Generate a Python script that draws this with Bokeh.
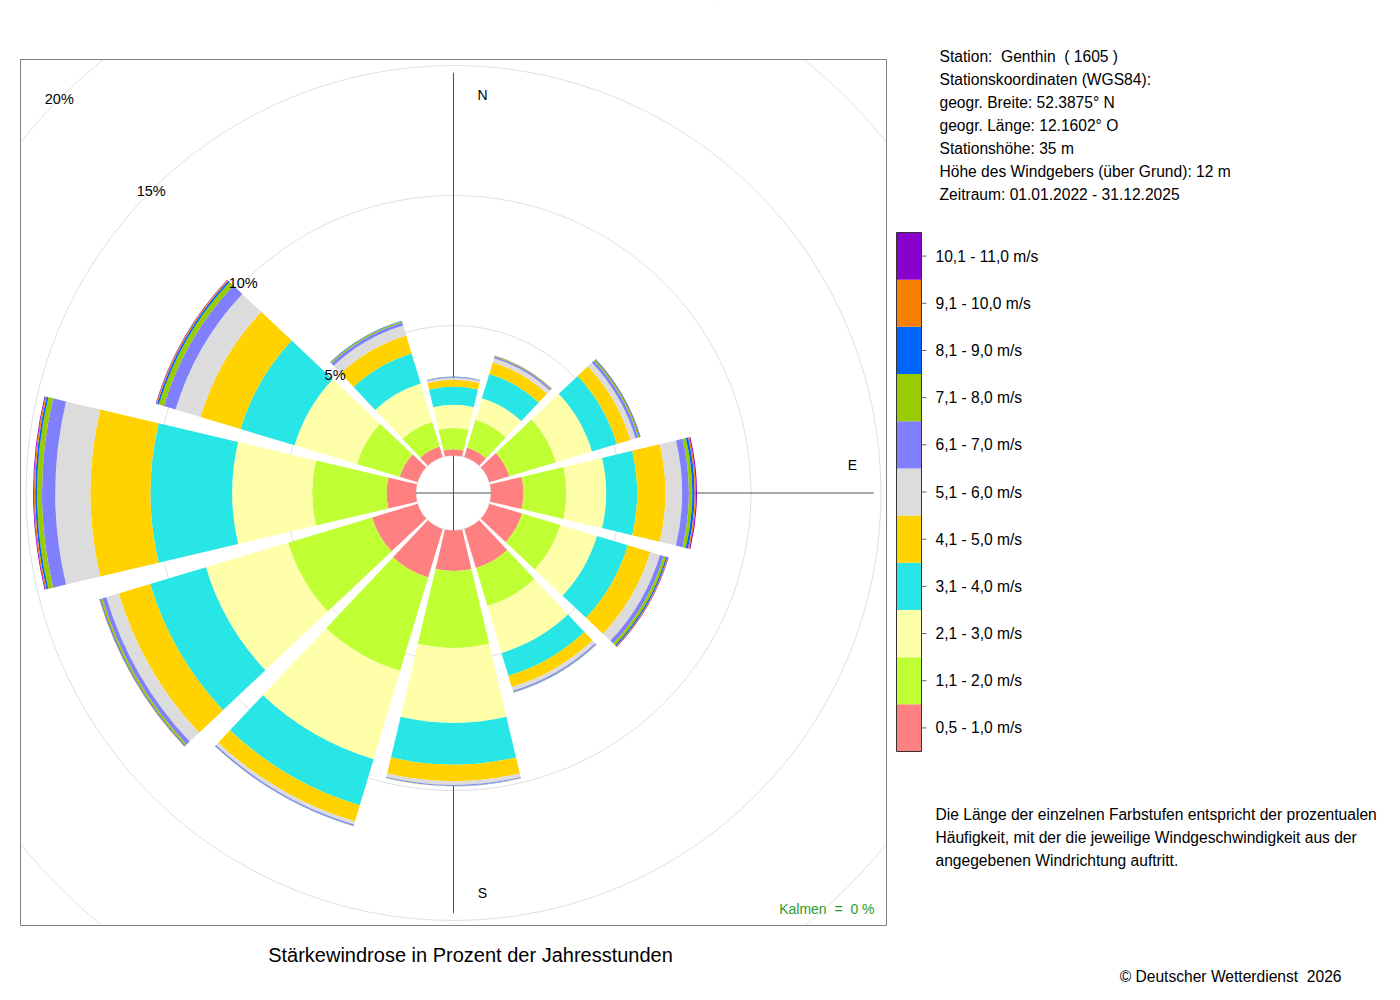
from bokeh.plotting import figure
from bokeh.models import Range1d, ColumnDataSource
from bokeh.core.properties import value
from bokeh.embed import file_html
from bokeh.resources import INLINE
import math

# ---------------- data ----------------
directions = ["N", "NNO", "ONO", "O", "OSO", "SSO", "S", "SSW", "WSW", "W", "WNW", "NNW"]
bearings = [0, 30, 60, 90, 120, 150, 180, 210, 240, 270, 300, 330]

speed_labels = ["0,5 - 1,0 m/s", "1,1 - 2,0 m/s", "2,1 - 3,0 m/s", "3,1 - 4,0 m/s",
                "4,1 - 5,0 m/s", "5,1 - 6,0 m/s", "6,1 - 7,0 m/s", "7,1 - 8,0 m/s",
                "8,1 - 9,0 m/s", "9,1 - 10,0 m/s", "10,1 - 11,0 m/s"]
speed_colors = ["#FF8080", "#BFFF33", "#FFFFAA", "#29E6E6", "#FFD200", "#DCDCDC",
                "#8080FF", "#99CC00", "#0064FF", "#F88000", "#8A00CC"]

# percent of year hours per direction (N, 30, 60, ... 330 deg)
v_0_5_1_0 = [0.24, 0.38, 0.80, 1.25, 1.31, 1.57, 1.56, 1.95, 1.83, 1.13, 0.72, 0.42]
v_1_1_2_0 = [0.82, 1.12, 1.88, 1.65, 1.54, 1.53, 2.96, 3.75, 3.37, 2.86, 1.72, 1.00]
v_2_1_3_0 = [0.89, 0.86, 1.44, 1.53, 1.47, 1.88, 2.88, 3.55, 3.30, 3.08, 2.50, 1.53]
v_3_1_4_0 = [0.70, 0.98, 1.00, 1.19, 1.24, 0.92, 1.61, 1.85, 2.24, 3.14, 2.17, 1.21]
v_4_1_5_0 = [0.26, 0.46, 0.54, 1.09, 0.90, 0.45, 0.63, 0.65, 1.26, 2.31, 1.61, 0.72]
v_5_1_6_0 = [0.08, 0.17, 0.21, 0.64, 0.39, 0.15, 0.14, 0.12, 0.50, 1.35, 1.00, 0.40]
v_6_1_7_0 = [0.03, 0.06, 0.11, 0.26, 0.15, 0.05, 0.04, 0.05, 0.16, 0.51, 0.47, 0.12]
v_7_1_8_0 = [0.01, 0.03, 0.05, 0.13, 0.10, 0.02, 0.01, 0.01, 0.07, 0.19, 0.20, 0.05]
v_8_1_9_0 = [0.005, 0.01, 0.03, 0.09, 0.05, 0.005, 0.005, 0.005, 0.03, 0.07, 0.07, 0.02]
v_9_1_10_0 = [0.0, 0.005, 0.01, 0.05, 0.03, 0.0, 0.0, 0.0, 0.01, 0.05, 0.04, 0.005]
v_10_1_11_0 = [0.0, 0.0, 0.005, 0.04, 0.02, 0.0, 0.0, 0.0, 0.01, 0.03, 0.02, 0.0]
series = [v_0_5_1_0, v_1_1_2_0, v_2_1_3_0, v_3_1_4_0, v_4_1_5_0, v_5_1_6_0,
          v_6_1_7_0, v_7_1_8_0, v_8_1_9_0, v_9_1_10_0, v_10_1_11_0]

grid_pcts = [0, 5, 10, 15, 20]
grid_labels = ["5%", "10%", "15%", "20%"]

station_lines = ["Station:\u00a0 Genthin \u00a0( 1605 )",
                 "Stationskoordinaten (WGS84):",
                 "geogr. Breite: 52.3875\u00b0 N",
                 "geogr. L\u00e4nge: 12.1602\u00b0 O",
                 "Stationsh\u00f6he: 35 m",
                 "H\u00f6he des Windgebers (\u00fcber Grund): 12 m",
                 "Zeitraum: 01.01.2022 - 31.12.2025"]
note_lines = ["Die L\u00e4nge der einzelnen Farbstufen entspricht der prozentualen",
              "H\u00e4ufigkeit, mit der die jeweilige Windgeschwindigkeit aus der",
              "angegebenen Windrichtung auftritt."]
title_text = "St\u00e4rkewindrose in Prozent der Jahresstunden"
calm_text = "Kalmen\u00a0 = \u00a00 %"
copyright_text = "\u00a9 Deutscher Wetterdienst\u00a0 2026"

# ---------------- layout (page pixels) ----------------
FONT = "Liberation Sans"
BODY = "15.6px"
PX = 26.0          # pixels per percent
CX, CY = 453.0, 492.5
HOLE = 37.5 / PX   # inner hole radius in percent units
HALF = 13.3        # half width of a sector in degrees
W, H = 1384, 984


def X(px):
    return (px - CX) / PX


def Y(py):
    return (CY - py) / PX


p = figure(width=W, height=H, x_range=Range1d(X(0), X(W)),
           y_range=Range1d(Y(H), Y(0)), output_backend="svg",
           toolbar_location=None, x_axis_location=None, y_axis_location=None,
           min_border=0, outline_line_color=None, title=None)
p.background_fill_color = "white"
p.border_fill_color = "white"
p.grid.visible = False

# grid circles
p.circle(x=[0] * len(grid_pcts), y=[0] * len(grid_pcts),
         radius=[HOLE + g for g in grid_pcts], fill_color=None,
         line_color="#E0E0E0", line_width=1)

# axis cross
totals = [sum(s[i] for s in series) for i in range(len(bearings))]
L = HOLE + max(totals)
p.segment(x0=[0, -L], y0=[-L, 0], x1=[0, L], y1=[L, 0], line_color="#505050", line_width=1)

# direction labels
p.text(x=[X(482), X(852), X(482)], y=[Y(94), Y(464), Y(892)], text=["N", "E", "S"],
       text_font=value(FONT), text_font_size=value("14px"), text_color="black",
       text_align="center", text_baseline="middle")

# stacked sectors
rows = dict(inner=[], outer=[], start=[], end=[], color=[])
for i, b in enumerate(bearings):
    cum = 0.0
    for j, s in enumerate(series):
        v = s[i]
        if v > 0:
            rows["inner"].append(HOLE + cum)
            rows["outer"].append(HOLE + cum + v)
            rows["start"].append(90 - b - HALF)
            rows["end"].append(90 - b + HALF)
            rows["color"].append(speed_colors[j])
        cum += v
src = ColumnDataSource(rows)
p.annular_wedge(x=0, y=0, inner_radius="inner", outer_radius="outer",
                start_angle="start", end_angle="end", start_angle_units="deg",
                end_angle_units="deg", fill_color="color", line_color=None, source=src)

# grid labels along 315 deg
lab_r = [HOLE + g for g in grid_pcts[1:]]
p.text(x=[-r * math.sqrt(0.5) for r in lab_r], y=[r * math.sqrt(0.5) for r in lab_r],
       text=grid_labels, text_font=value(FONT), text_font_size=value("14.5px"),
       text_color="black", text_align="center", text_baseline="middle")

# mask outside plot box
bx0, bx1, by0, by1 = X(20), X(886), Y(925), Y(59)
ox0, ox1, oy0, oy1 = X(-10), X(W + 10), Y(H + 10), Y(-10)
p.multi_polygons(xs=[[[[ox0, ox1, ox1, ox0], [bx0, bx1, bx1, bx0]]]],
                 ys=[[[[oy0, oy0, oy1, oy1], [by0, by0, by1, by1]]]],
                 fill_color="white", line_color=None)
p.quad(left=[bx0], right=[bx1], bottom=[by0], top=[by1], fill_color=None,
       line_color="#808080", line_width=1)

# calm text
p.text(x=[X(874)], y=[Y(908)], text=[calm_text], text_font=value(FONT),
       text_font_size=value("14px"), text_color="#2E9A2E", text_align="right",
       text_baseline="middle")

# title & copyright
p.text(x=[X(470)], y=[Y(954)], text=[title_text], text_font=value(FONT),
       text_font_size=value("20px"), text_color="black", text_align="center",
       text_baseline="middle")
p.text(x=[X(1341)], y=[Y(976)], text=[copyright_text], text_font=value(FONT),
       text_font_size=value(BODY), text_color="black", text_align="right",
       text_baseline="middle")

# station info
p.text(x=[X(939)] * len(station_lines), y=[Y(55.5 + 23 * k) for k in range(len(station_lines))],
       text=station_lines, text_font=value(FONT), text_font_size=value(BODY),
       text_color="black", text_align="left", text_baseline="middle")

# note
p.text(x=[X(935)] * len(note_lines), y=[Y(814 + 23 * k) for k in range(len(note_lines))],
       text=note_lines, text_font=value(FONT), text_font_size=value(BODY),
       text_color="black", text_align="left", text_baseline="middle")

# legend colour bar
LT, LB = 232.0, 751.0
n = len(speed_labels)
h = (LB - LT) / n
p.quad(left=[X(896)] * n, right=[X(921)] * n,
       bottom=[Y(LB - h * k) for k in range(n)], top=[Y(LB - h * (k + 1)) for k in range(n)],
       fill_color=speed_colors, line_color=None)
p.quad(left=[X(896)], right=[X(921)], bottom=[Y(LB)], top=[Y(LT)], fill_color=None,
       line_color="#333333", line_width=1)
centers = [Y(LB - h * (k + 0.5)) for k in range(n)]
p.segment(x0=[X(921)] * n, y0=centers, x1=[X(926)] * n, y1=centers, line_color="#666666")
p.text(x=[X(935)] * n, y=centers, text=speed_labels, text_font=value(FONT),
       text_font_size=value(BODY), text_color="black", text_align="left",
       text_baseline="middle")

open("out.html", "w").write(file_html(p, INLINE))
